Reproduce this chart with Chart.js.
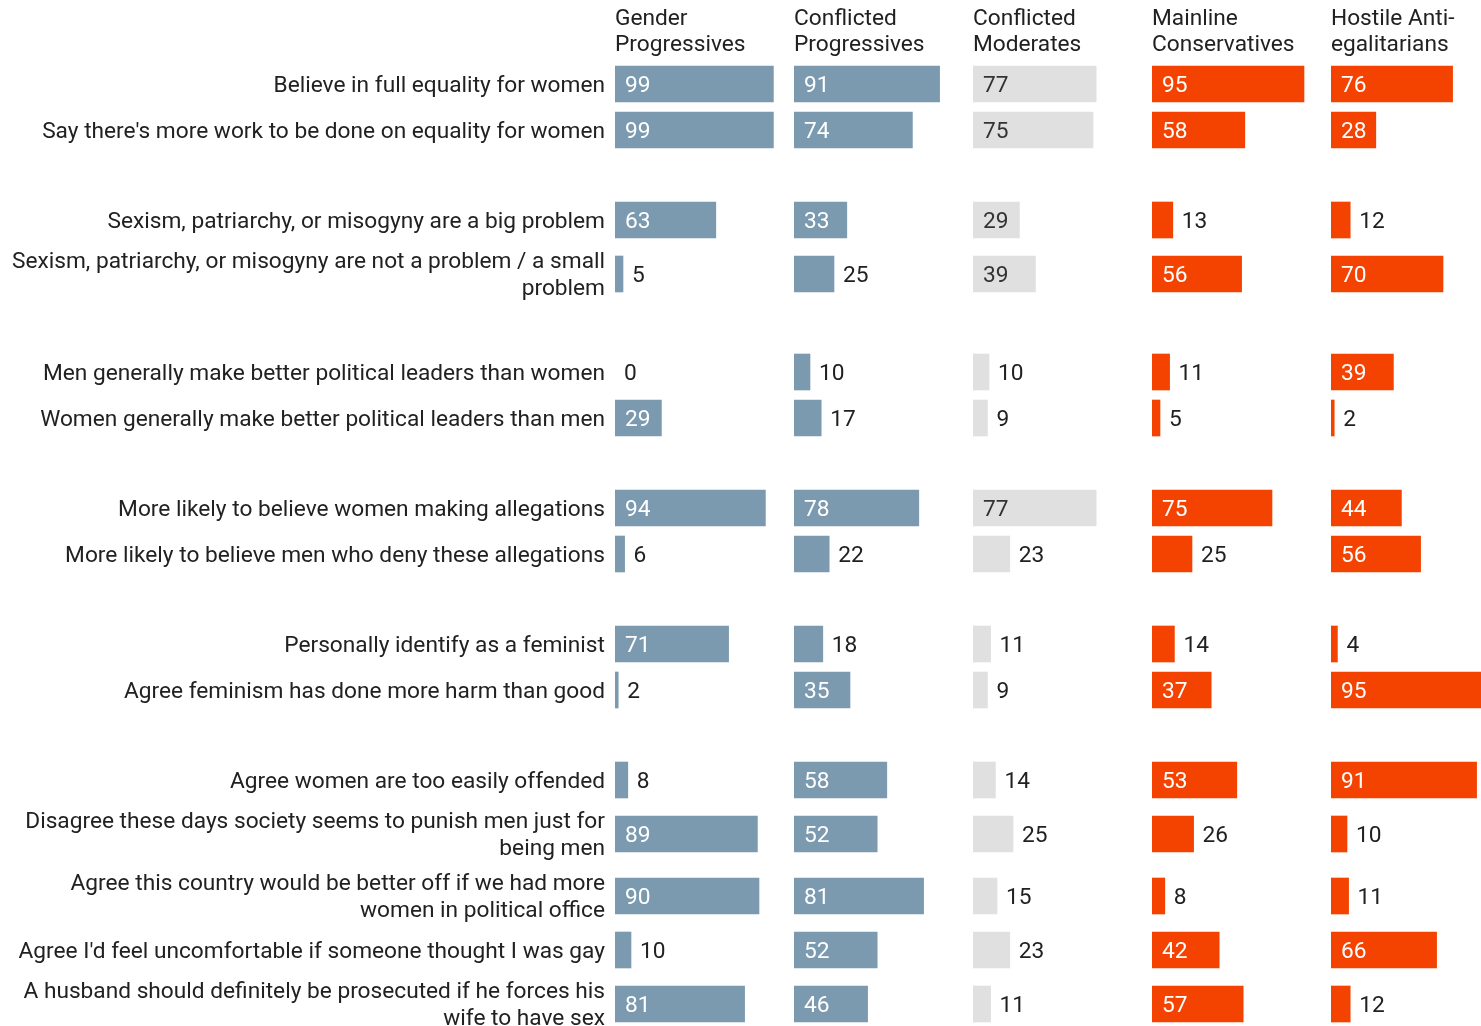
<!DOCTYPE html>
<html><head><meta charset="utf-8">
<script src="https://cdn.jsdelivr.net/npm/chart.js@4.4.1/dist/chart.umd.min.js"></script>
<style>
html,body{margin:0;padding:0;overflow:hidden;background:#fff;}
#wrap{position:relative;width:1510px;height:1026px;}
</style></head><body>
<div id="wrap"><canvas id="c"></canvas></div>
<script>
// ---- data ----
const categories = [
  ["Believe in full equality for women"],
  ["Say there's more work to be done on equality for women"],
  ["Sexism, patriarchy, or misogyny are a big problem"],
  ["Sexism, patriarchy, or misogyny are not a problem / a small", "problem"],
  ["Men generally make better political leaders than women"],
  ["Women generally make better political leaders than men"],
  ["More likely to believe women making allegations"],
  ["More likely to believe men who deny these allegations"],
  ["Personally identify as a feminist"],
  ["Agree feminism has done more harm than good"],
  ["Agree women are too easily offended"],
  ["Disagree these days society seems to punish men just for", "being men"],
  ["Agree this country would be better off if we had more", "women in political office"],
  ["Agree I'd feel uncomfortable if someone thought I was gay"],
  ["A husband should definitely be prosecuted if he forces his", "wife to have sex"]
];
const groupSizes = [2, 2, 2, 2, 2, 5];
const segmentNames = [
  ["Gender", "Progressives"],
  ["Conflicted", "Progressives"],
  ["Conflicted", "Moderates"],
  ["Mainline", "Conservatives"],
  ["Hostile Anti-", "egalitarians"]
];
const genderProgressives      = [99, 99, 63, 5, 0, 29, 94, 6, 71, 2, 8, 89, 90, 10, 81];
const conflictedProgressives  = [91, 74, 33, 25, 10, 17, 78, 22, 18, 35, 58, 52, 81, 52, 46];
const conflictedModerates     = [77, 75, 29, 39, 10, 9, 77, 23, 11, 9, 14, 25, 15, 23, 11];
const mainlineConservatives   = [95, 58, 13, 56, 11, 5, 75, 25, 14, 37, 53, 26, 8, 42, 57];
const hostileAntiEgalitarians = [76, 28, 12, 70, 39, 2, 44, 56, 4, 95, 91, 10, 11, 66, 12];

// ---- layout / styles ----
const seriesList = [genderProgressives, conflictedProgressives, conflictedModerates, mainlineConservatives, hostileAntiEgalitarians];
const BLUE = '#7b9aaf', GRAY = '#e0e0e0', ORANGE = '#f44300';
const barColors = [BLUE, BLUE, GRAY, ORANGE, ORANGE];
const insideText = ['#ffffff', '#ffffff', '#333333', '#ffffff', '#ffffff'];
const TEXT = '#212121';
const FONT_SIZE = 22.7;
const ROW1 = 46, ROW2 = 62, GAP = 44;

// row slot positions derived from label line counts and group structure
const rowH = categories.map(c => c.length > 1 ? ROW2 : ROW1);
const groupStart = new Set();
{ let acc = 0; groupSizes.forEach(n => { groupStart.add(acc); acc += n; }); }
const slots = [];
categories.forEach((c, i) => {
  if (i === 0) slots.push(0);
  else slots.push(slots[i - 1] + (rowH[i - 1] + rowH[i]) / 2 + (groupStart.has(i) ? GAP : 0));
});

const HEADER = 60;
const yMin = -(84 - HEADER);
const yMax = yMin + (1026 - HEADER);
const colMax = 179 / 1.6;

Chart.defaults.font.family = 'Roboto';
Chart.defaults.font.size = FONT_SIZE;
Chart.defaults.color = TEXT;

const datasets = seriesList.map((s, k) => ({
  data: s.map((v, i) => ({ x: v, y: slots[i] })),
  xAxisID: 'x' + k,
  yAxisID: 'y',
  backgroundColor: (c) => (c.raw && c.raw.x === 0) ? 'rgba(0,0,0,0)' : barColors[k],
  borderWidth: 0,
  grouped: false,
  barPercentage: 1,
  categoryPercentage: 1,
  maxBarThickness: 36
}));

const scales = {
  y: {
    type: 'linear',
    position: 'left',
    reverse: true,
    offset: false,
    min: yMin,
    max: yMax,
    grid: { display: false, drawTicks: false, offset: false },
    border: { display: false },
    afterBuildTicks: (axis) => { axis.ticks = slots.map(v => ({ value: v })); },
    afterFit: (axis) => { axis.width = 615; axis.paddingTop = 0; axis.paddingBottom = 0; },
    ticks: {
      autoSkip: false,
      padding: 10,
      labelOffset: 2,
      color: TEXT,
      font: { family: 'Roboto', size: FONT_SIZE, lineHeight: 1.17 },
      callback: (value) => {
        const i = slots.indexOf(value);
        return i >= 0 ? categories[i] : '';
      }
    }
  }
};
// top boxes are placed in reverse order, so register the last column first
for (let k = segmentNames.length - 1; k >= 0; k--) {
  scales['x' + k] = {
    type: 'linear',
    position: 'top',
    stack: 'cols',
    stackWeight: 1,
    min: 0,
    max: colMax,
    offset: false,
    grid: { display: false, drawTicks: false },
    border: { display: false },
    ticks: { display: false },
    afterFit: (axis) => { axis.height = HEADER; axis.paddingLeft = 0; axis.paddingRight = 0; },
    title: {
      display: true,
      text: segmentNames[k],
      align: 'start',
      color: TEXT,
      padding: { top: 6, bottom: 0 },
      font: { family: 'Roboto', size: FONT_SIZE, lineHeight: 1.15 }
    }
  };
}

const valueLabels = {
  id: 'valueLabels',
  afterDatasetsDraw(chart) {
    const ctx = chart.ctx;
    ctx.save();
    ctx.font = FONT_SIZE + 'px Roboto';
    ctx.textBaseline = 'middle';
    ctx.textAlign = 'left';
    chart.data.datasets.forEach((ds, k) => {
      const meta = chart.getDatasetMeta(k);
      meta.data.forEach((bar, i) => {
        const v = ds.data[i].x;
        const left = Math.min(bar.x, bar.base);
        const right = Math.max(bar.x, bar.base);
        if (v >= 27) {
          ctx.fillStyle = insideText[k];
          ctx.fillText(String(v), left + 10, bar.y + 2);
        } else {
          ctx.fillStyle = TEXT;
          ctx.fillText(String(v), right + 9, bar.y + 2);
        }
      });
    });
    ctx.restore();
  }
};

new Chart(document.getElementById('c'), {
  type: 'bar',
  data: { datasets },
  options: {
    indexAxis: 'y',
    responsive: true,
    maintainAspectRatio: false,
    animation: false,
    layout: { padding: 0 },
    plugins: { legend: { display: false }, tooltip: { enabled: false } },
    scales
  },
  plugins: [valueLabels]
});
</script>
</body></html>
